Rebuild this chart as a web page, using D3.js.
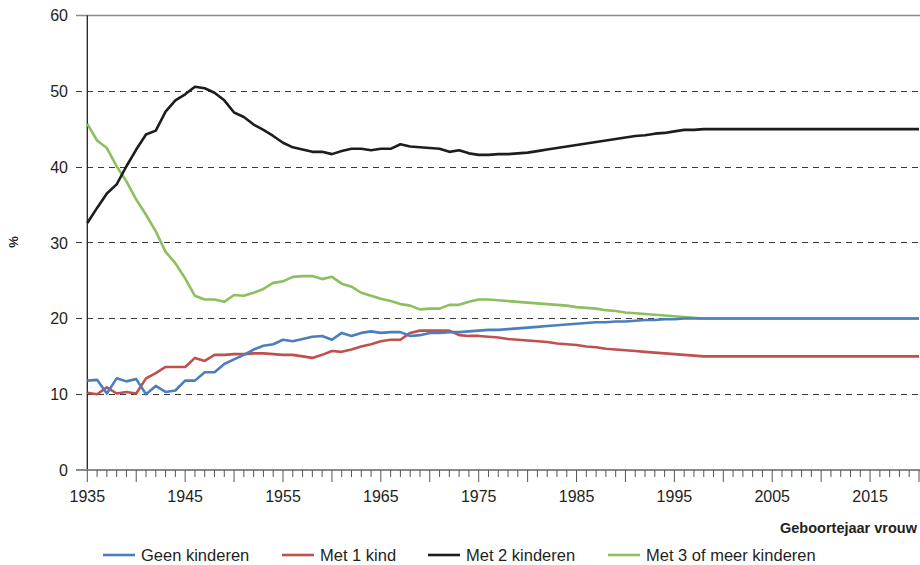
<!DOCTYPE html>
<html>
<head>
<meta charset="utf-8">
<style>
  body { margin: 0; background: #fff; }
  svg { display: block; }
  text { font-family: "Liberation Sans", Arial, sans-serif; fill: #231f20; }
</style>
</head>
<body>
<script src="https://d3js.org/d3.v7.min.js"></script>
<svg width="920" height="565"></svg>
<script>
var years = d3.range(1935, 2021);

var geen = [11.8, 11.9, 10.1, 12.1, 11.7, 12.0, 10.0, 11.1, 10.3, 10.5,
  11.8, 11.8, 12.9, 12.9, 14.0, 14.6, 15.2, 15.9, 16.4, 16.6,
  17.2, 17.0, 17.3, 17.6, 17.7, 17.2, 18.1, 17.7, 18.1, 18.3,
  18.1, 18.2, 18.2, 17.7, 17.8, 18.1, 18.1, 18.2, 18.2, 18.3,
  18.4, 18.5, 18.5, 18.6, 18.7, 18.8, 18.9, 19.0, 19.1, 19.2,
  19.3, 19.4, 19.5, 19.5, 19.6, 19.6, 19.7, 19.8, 19.8, 19.9,
  19.9, 20.0, 20.0, 20.0, 20.0, 20.0, 20.0, 20.0, 20.0, 20.0,
  20.0, 20.0, 20.0, 20.0, 20.0, 20.0, 20.0, 20.0, 20.0, 20.0,
  20.0, 20.0, 20.0, 20.0, 20.0, 20.0];

var met1 = [10.2, 10.0, 10.9, 10.1, 10.3, 10.1, 12.1, 12.8, 13.6, 13.6,
  13.6, 14.8, 14.4, 15.2, 15.2, 15.3, 15.3, 15.4, 15.4, 15.3,
  15.2, 15.2, 15.0, 14.8, 15.2, 15.7, 15.6, 15.9, 16.3, 16.6,
  17.0, 17.2, 17.2, 18.1, 18.4, 18.4, 18.4, 18.4, 17.8, 17.7,
  17.7, 17.6, 17.5, 17.3, 17.2, 17.1, 17.0, 16.9, 16.7, 16.6,
  16.5, 16.3, 16.2, 16.0, 15.9, 15.8, 15.7, 15.6, 15.5, 15.4,
  15.3, 15.2, 15.1, 15.0, 15.0, 15.0, 15.0, 15.0, 15.0, 15.0,
  15.0, 15.0, 15.0, 15.0, 15.0, 15.0, 15.0, 15.0, 15.0, 15.0,
  15.0, 15.0, 15.0, 15.0, 15.0, 15.0];

var met2 = [32.6, 34.6, 36.5, 37.7, 40.1, 42.3, 44.3, 44.8, 47.3, 48.8,
  49.6, 50.6, 50.4, 49.8, 48.8, 47.2, 46.6, 45.6, 44.9, 44.1,
  43.2, 42.6, 42.3, 42.0, 42.0, 41.7, 42.1, 42.4, 42.4, 42.2,
  42.4, 42.4, 43.0, 42.7, 42.6, 42.5, 42.4, 42.0, 42.2, 41.8,
  41.6, 41.6, 41.7, 41.7, 41.8, 41.9, 42.1, 42.3, 42.5, 42.7,
  42.9, 43.1, 43.3, 43.5, 43.7, 43.9, 44.1, 44.2, 44.4, 44.5,
  44.7, 44.9, 44.9, 45.0, 45.0, 45.0, 45.0, 45.0, 45.0, 45.0,
  45.0, 45.0, 45.0, 45.0, 45.0, 45.0, 45.0, 45.0, 45.0, 45.0,
  45.0, 45.0, 45.0, 45.0, 45.0, 45.0];

var met3 = [45.7, 43.5, 42.5, 40.1, 38.1, 35.7, 33.7, 31.5, 28.8, 27.3,
  25.3, 23.0, 22.5, 22.5, 22.2, 23.1, 23.0, 23.4, 23.9, 24.7,
  24.9, 25.5, 25.6, 25.6, 25.2, 25.5, 24.6, 24.2, 23.4, 23.0,
  22.6, 22.3, 21.9, 21.7, 21.2, 21.3, 21.3, 21.8, 21.8, 22.2,
  22.5, 22.5, 22.4, 22.3, 22.2, 22.1, 22.0, 21.9, 21.8, 21.7,
  21.5, 21.4, 21.3, 21.1, 21.0, 20.8, 20.7, 20.6, 20.5, 20.4,
  20.3, 20.2, 20.1, 20.0, 20.0, 20.0, 20.0, 20.0, 20.0, 20.0,
  20.0, 20.0, 20.0, 20.0, 20.0, 20.0, 20.0, 20.0, 20.0, 20.0,
  20.0, 20.0, 20.0, 20.0, 20.0, 20.0];

var seriesNames = ["Geen kinderen", "Met 1 kind", "Met 2 kinderen", "Met 3 of meer kinderen"];
var yTicks = [0, 10, 20, 30, 40, 50, 60];
var xTickLabels = ["1935", "1945", "1955", "1965", "1975", "1985", "1995", "2005", "2015"];

var colors = ["#4a7ebf", "#c0504d", "#1d1d1b", "#8cbf5f"];
var allSeries = [geen, met1, met2, met3];

var svg = d3.select("svg");

var x = d3.scaleLinear().domain([1935, 2020]).range([87.3, 919]);
var y = d3.scaleLinear().domain([0, 60]).range([470, 15.5]);

// gridlines
svg.append("g")
  .selectAll("line")
  .data(yTicks.filter(function(d) { return d > 0 && d < 60; }))
  .enter().append("line")
  .attr("x1", 76).attr("x2", 920)
  .attr("y1", function(d) { return y(d); })
  .attr("y2", function(d) { return y(d); })
  .style("stroke", "#3a3a3a")
  .style("stroke-width", 1)
  .style("stroke-dasharray", "6,5")
  .style("shape-rendering", "crispEdges");

// top line at 60
svg.append("line")
  .attr("x1", 76).attr("x2", 920)
  .attr("y1", y(60)).attr("y2", y(60))
  .style("stroke", "#8a8a8a").style("stroke-width", 1.5);

// y labels
svg.append("g")
  .selectAll("text")
  .data(yTicks)
  .enter().append("text")
  .attr("x", 68)
  .attr("y", function(d) { return y(d); })
  .attr("dy", "0.36em")
  .attr("text-anchor", "end")
  .style("font-size", "16px")
  .text(function(d) { return d; });

// y axis line
svg.append("line")
  .attr("x1", x(1935)).attr("x2", x(1935))
  .attr("y1", y(60)).attr("y2", y(0))
  .style("stroke", "#231f20").style("stroke-width", 1.3);

// x axis
svg.append("line")
  .attr("x1", 76).attr("x2", 920)
  .attr("y1", y(0)).attr("y2", y(0))
  .style("stroke", "#8a8a8a").style("stroke-width", 1.8);

svg.append("g")
  .selectAll("line")
  .data(years)
  .enter().append("line")
  .attr("x1", function(d) { return x(d); })
  .attr("x2", function(d) { return x(d); })
  .attr("y1", y(0))
  .attr("y2", function(d) { return (d - 1935) % 5 == 0 ? y(0) + 12 : y(0) + 7; })
  .style("stroke", "#555")
  .style("stroke-width", 1);

svg.append("g")
  .selectAll("text")
  .data(xTickLabels)
  .enter().append("text")
  .attr("x", function(d) { return x(+d); })
  .attr("y", 502)
  .attr("text-anchor", "middle")
  .style("font-size", "16px")
  .text(function(d) { return d; });

// axis titles
svg.append("text")
  .attr("transform", "translate(18,242) rotate(-90)")
  .attr("text-anchor", "middle")
  .style("font-size", "13px")
  .style("font-weight", "bold")
  .text("%");

svg.append("text")
  .attr("x", 917)
  .attr("y", 533)
  .attr("text-anchor", "end")
  .style("font-size", "14.5px")
  .style("font-weight", "bold")
  .text("Geboortejaar vrouw");

// lines
var line = d3.line()
  .x(function(d, i) { return x(years[i]); })
  .y(function(d) { return y(d); });

var drawOrder = [3, 2, 1, 0];
svg.append("g")
  .selectAll("path")
  .data(drawOrder)
  .enter().append("path")
  .attr("d", function(i) { return line(allSeries[i]); })
  .style("fill", "none")
  .style("stroke", function(i) { return colors[i]; })
  .style("stroke-width", 2.6)
  .style("stroke-linejoin", "round");

// legend
var legendX = [103, 282, 428, 608];
var legend = svg.append("g")
  .selectAll("g")
  .data(seriesNames)
  .enter().append("g")
  .attr("transform", function(d, i) { return "translate(" + legendX[i] + ",555)"; });

legend.append("line")
  .attr("x1", 0).attr("x2", 32)
  .attr("y1", 0).attr("y2", 0)
  .style("stroke", function(d, i) { return colors[i]; })
  .style("stroke-width", 2.6);

legend.append("text")
  .attr("x", 38)
  .attr("y", 0)
  .attr("dy", "0.36em")
  .style("font-size", "16.5px")
  .text(function(d) { return d; });
</script>
</body>
</html>
